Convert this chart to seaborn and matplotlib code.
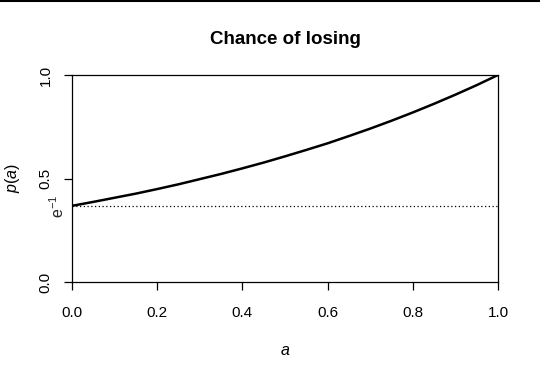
import matplotlib
matplotlib.use("Agg")
import matplotlib.pyplot as plt
import seaborn as sns
import pandas as pd
from matplotlib.lines import Line2D

# Data
a_vals = [0.00, 0.05, 0.10, 0.15, 0.20, 0.25, 0.30, 0.35, 0.40, 0.45, 0.50,
          0.55, 0.60, 0.65, 0.70, 0.75, 0.80, 0.85, 0.90, 0.95, 1.00]
p_vals = [0.368, 0.387, 0.407, 0.427, 0.449, 0.472, 0.497, 0.522, 0.549, 0.577, 0.607,
          0.638, 0.670, 0.705, 0.741, 0.779, 0.819, 0.861, 0.905, 0.951, 1.000]
ref_level = 0.368
x_ticks = [0.0, 0.2, 0.4, 0.6, 0.8, 1.0]
x_ticklabels = ["0.0", "0.2", "0.4", "0.6", "0.8", "1.0"]
y_ticks = [0.0, 0.5, 1.0]
y_ticklabels = ["0.0", "0.5", "1.0"]

sns.set_theme(style="white")
plt.rcParams['font.family'] = ['Liberation Sans', 'DejaVu Sans']
plt.rcParams['mathtext.fontset'] = 'custom'
plt.rcParams['mathtext.rm'] = 'Liberation Sans'
plt.rcParams['mathtext.it'] = 'Liberation Sans:italic'

df = pd.DataFrame({"a": a_vals, "p": p_vals})

fig = plt.figure(figsize=(5.4, 3.76), dpi=100)
ax = fig.add_axes([72/540, 1-282/376, (498-72)/540, (282-75)/376])

sns.lineplot(data=df, x="a", y="p", ax=ax, color="black", linewidth=1.8)
ax.axhline(ref_level, color="black", linewidth=0.9, linestyle=(0, (1, 2)))

ax.set_xlim(0, 1)
ax.set_ylim(0, 1)
ax.set_xticks(x_ticks)
ax.set_xticklabels(x_ticklabels, fontsize=11)
ax.set_yticks(y_ticks)
ax.set_yticklabels(y_ticklabels, fontsize=11, rotation=90, va="center")
ax.tick_params(axis="both", direction="out", length=6, width=0.9, color="black",
               bottom=True, left=True, labelcolor="black")
ax.tick_params(axis="x", pad=11)
ax.tick_params(axis="y", pad=8)
for s in ax.spines.values():
    s.set_visible(True)
    s.set_color("black")
    s.set_linewidth(0.9)

ax.set_xlabel("$a$", fontsize=11.5, labelpad=17, color="black")
ax.set_ylabel("$p(a)$", fontsize=11.5, labelpad=12, color="black")
ax.yaxis.set_label_coords(-50/426, 0.5)
ax.set_title("Chance of losing", fontsize=13.5, fontweight="bold", pad=22, color="black")

ax.text(-0.012, ref_level, "e$^{-1}$", rotation=90, ha="right", va="center",
        fontsize=11.5, transform=ax.transData, clip_on=False)

fig.add_artist(Line2D([0, 1], [1 - 1/376, 1 - 1/376], transform=fig.transFigure,
                      color="black", linewidth=1.5))

fig.savefig("out.png", dpi=100, facecolor="white")
